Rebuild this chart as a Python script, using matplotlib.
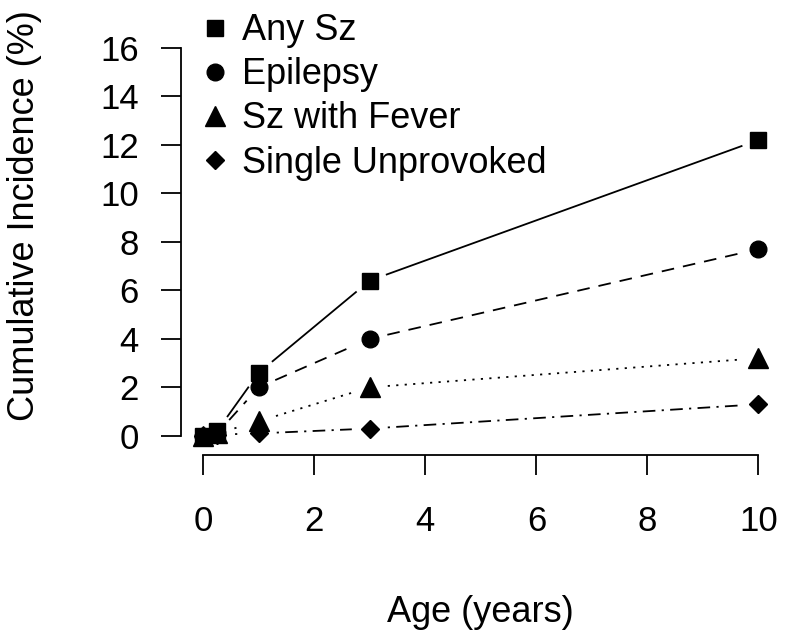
import matplotlib

matplotlib.use('Agg')

from matplotlib import pyplot as plt
import numpy as np

plt.rcParams['font.family'] = ['Liberation Sans', 'DejaVu Sans']

# 데이터
age = [0, 0.25, 1, 3, 10]
any_sz = [0, 0.2, 2.6, 6.4, 12.2]
epilepsy = [0, 0.1, 2.0, 4.0, 7.7]
sz_fever = [0, 0.1, 0.6, 2.0, 3.2]
single_unprov = [0, 0.05, 0.1, 0.3, 1.3]

series = [
    ('Any Sz', any_sz, 's', '-', 11.5),
    ('Epilepsy', epilepsy, 'o', (0, (7, 5)), 12),
    ('Sz with Fever', sz_fever, '^', (0, (1.2, 3.5)), 14),
    ('Single Unprovoked', single_unprov, 'D', (0, (1.2, 3.5, 7, 3.5)), 9.5),
]

fig = plt.figure(figsize=(7.87, 6.33), dpi=100)
ax = fig.add_axes([0.230, 0.287, 0.762, 0.662])
ax.set_xlim(-0.4, 10.4)
ax.set_ylim(-0.64, 16.64)

gap = 18  # R type="b" 스타일의 점 주변 간격 (px)
inv = ax.transData.inverted()
handles = []
for name, vals, mk, ls, ms in series:
    pts = ax.transData.transform(np.column_stack([age, vals]))
    for p0, p1 in zip(pts[:-1], pts[1:]):
        d = p1 - p0
        length = np.hypot(*d)
        if length <= 2 * gap:
            continue
        u = d / length
        a = inv.transform(p0 + u * gap)
        b = inv.transform(p1 - u * gap)
        ax.plot([a[0], b[0]], [a[1], b[1]], color='black', linestyle=ls, linewidth=1.3)
    h, = ax.plot(age, vals, linestyle='none', marker=mk, markersize=ms,
                 color='black', label=name)
    handles.append(h)

for s in ['top', 'right']:
    ax.spines[s].set_visible(False)
ax.spines['left'].set_bounds(0, 16)
ax.spines['bottom'].set_bounds(0, 10)
ax.spines['bottom'].set_position(('outward', 3))
ax.spines['left'].set_linewidth(1.3)
ax.spines['bottom'].set_linewidth(1.3)

ax.set_xticks([0, 2, 4, 6, 8, 10])
ax.set_yticks([0, 2, 4, 6, 8, 10, 12, 14, 16])
ax.tick_params(axis='both', length=14.5, width=1.3, labelsize=25)
ax.tick_params(axis='y', pad=16)
ax.tick_params(axis='x', pad=21)

ax.set_xlabel('Age (years)', fontsize=26, labelpad=41)
ax.set_ylabel('Cumulative Incidence (%)', fontsize=26)
ax.yaxis.set_label_coords(-0.232, 0.562)

leg = ax.legend(handles=handles, loc='upper left', bbox_to_anchor=(0.033, 1.045),
                frameon=False, fontsize=26, handlelength=0.8, handletextpad=0.35,
                labelspacing=0.25, borderaxespad=0, borderpad=0)
for h in leg.legend_handles:
    h.set_linestyle('none')

fig.savefig('out.png', dpi=100)
plt.close()
